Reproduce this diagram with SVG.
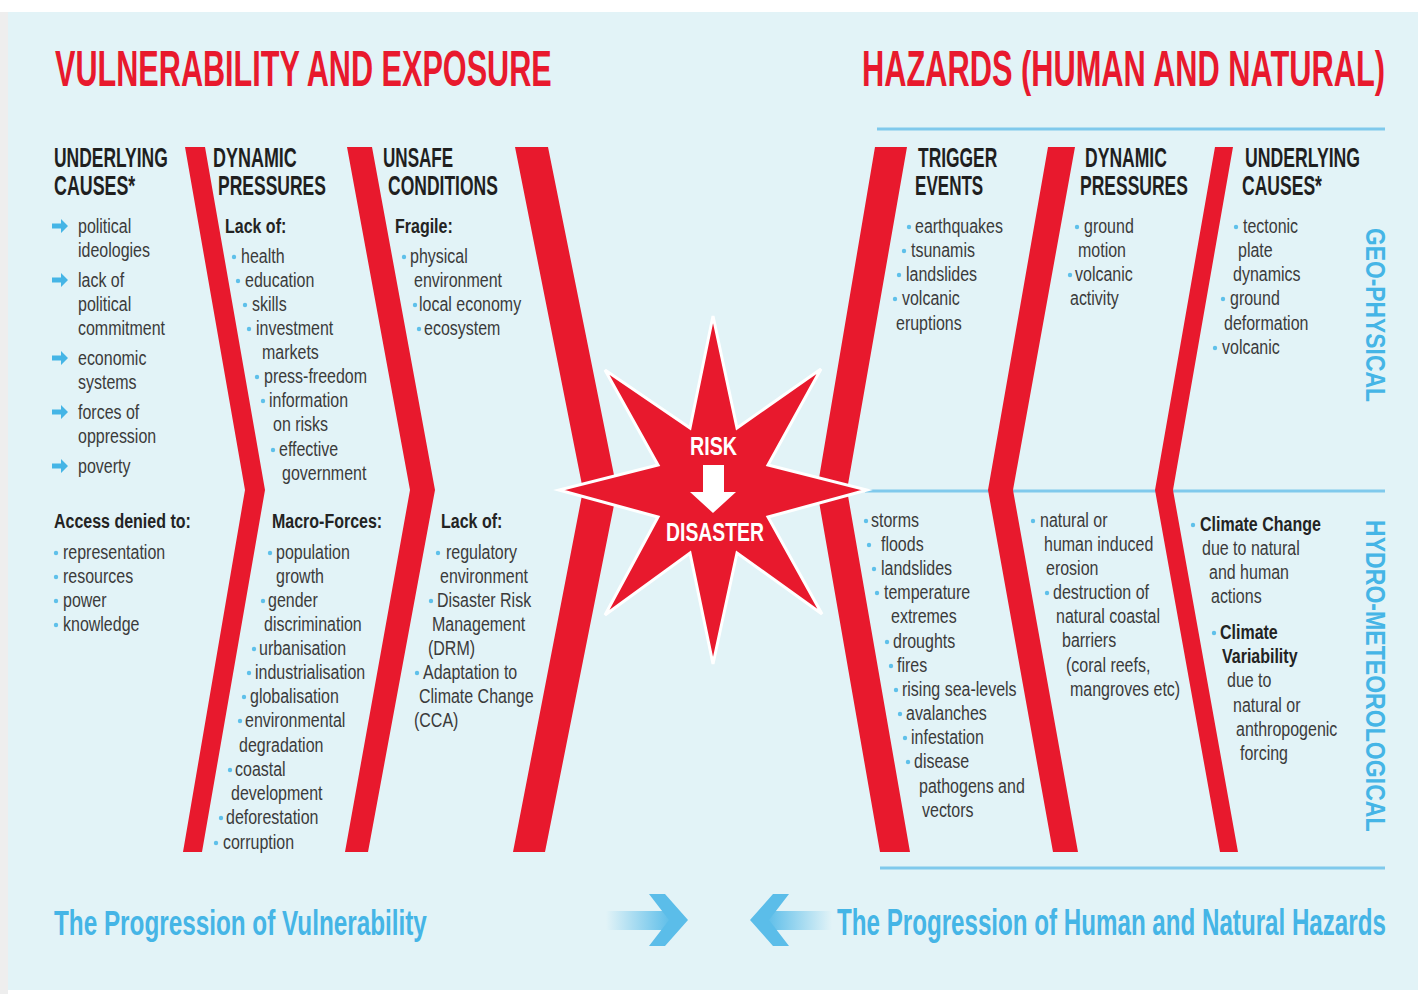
<svg xmlns="http://www.w3.org/2000/svg" width="1418" height="994" viewBox="0 0 1418 994">
<defs>
<style>
.bg{fill:#e2f3f7}
.red{fill:#e8192d}
.hl{stroke:#7fc9ec;stroke-width:3;fill:none}
.t{font-family:"Liberation Sans",Arial,sans-serif;font-size:19.5px;fill:#3b3b3b;transform-box:fill-box;transform-origin:0 0;transform:scaleX(0.82)}
.bd{font-weight:bold;fill:#232323}
.h{font-family:"Liberation Sans",Arial,sans-serif;font-weight:bold;font-size:27px;fill:#1f1f1f}
.title{font-family:"Liberation Sans",Arial,sans-serif;font-weight:bold;font-size:50px;fill:#e8192d}
.blue{font-family:"Liberation Sans",Arial,sans-serif;font-weight:bold;fill:#45b5e6}
.w{font-family:"Liberation Sans",Arial,sans-serif;font-weight:bold;font-size:26px;fill:#ffffff}
.b{fill:#5ec0ea}
.arr{fill:#45b5e6}
</style>
<linearGradient id="gR" x1="0" y1="0" x2="1" y2="0">
<stop offset="0" stop-color="#5bbde9" stop-opacity="0"/>
<stop offset="1" stop-color="#5bbde9" stop-opacity="1"/>
</linearGradient>
<linearGradient id="gL" x1="0" y1="0" x2="1" y2="0">
<stop offset="0" stop-color="#5bbde9" stop-opacity="1"/>
<stop offset="1" stop-color="#5bbde9" stop-opacity="0"/>
</linearGradient>
<path id="ar" d="M0,-2.5 H9 V-7 L16,0 L9,7 V2.5 H0 Z"/>
</defs>

<rect x="0" y="0" width="1418" height="994" fill="#ffffff"/>
<rect x="0" y="12" width="8" height="982" fill="#eeeeee"/>
<rect class="bg" x="8" y="12" width="1410" height="978"/>

<g id="titles">
<text class="title" transform="translate(55,86) scale(0.611,1)" textLength="813" lengthAdjust="spacingAndGlyphs">VULNERABILITY AND EXPOSURE</text>
<text class="title" transform="translate(862,86) scale(0.611,1)" textLength="856" lengthAdjust="spacingAndGlyphs">HAZARDS (HUMAN AND NATURAL)</text>
</g>

<g id="connectors">
<line class="hl" x1="877" y1="129" x2="1385" y2="129"/>
<line class="hl" x1="865" y1="491" x2="1385" y2="491"/>
<line class="hl" x1="880" y1="868" x2="1385" y2="868"/>
<polygon class="red" points="185,147 205,147 265,490 202,852 183,852 245,490"/>
<polygon class="red" points="347,147 372,147 435,490 368,852 345,852 410,490"/>
<polygon class="red" points="515,147 548,147 617,490 545,852 513,852 583,490"/>
<polygon class="red" points="875,147 907,147 847,490 910,852 880,852 817,490"/>
<polygon class="red" points="1048,147 1075,147 1013,490 1078,852 1053,852 988,490"/>
<polygon class="red" points="1215,147 1233,147 1173,490 1238,852 1220,852 1155,490"/>
</g>

<g id="star">
<polygon fill="#e8192d" stroke="#ffffff" stroke-width="3" stroke-linejoin="miter" points="713,316 737,428 821,369 768,465 867,490 768,517 822,614 737,553 713,664 690,553 605,615 658,517 559,490 658,465 605,370 690,428"/>
<text class="w" x="690" y="455" textLength="47" lengthAdjust="spacingAndGlyphs">RISK</text>
<polygon fill="#ffffff" points="703,465 724,465 724,492 736,492 713,513 690,492 703,492"/>
<text class="w" x="666" y="541" textLength="98" lengthAdjust="spacingAndGlyphs">DISASTER</text>
</g>

<g id="col-underlying-left">
<text class="h" transform="translate(54,167) scale(0.65,1)" textLength="175" lengthAdjust="spacingAndGlyphs">UNDERLYING</text>
<text class="h" transform="translate(54,195) scale(0.65,1)" textLength="125" lengthAdjust="spacingAndGlyphs">CAUSES*</text>
<use href="#ar" class="arr" x="52" y="226"/>
<use href="#ar" class="arr" x="52" y="280"/>
<use href="#ar" class="arr" x="52" y="358"/>
<use href="#ar" class="arr" x="52" y="412"/>
<use href="#ar" class="arr" x="52" y="466"/>
<text class="t" x="78" y="233">political</text>
<text class="t" x="78" y="257">ideologies</text>
<text class="t" x="78" y="287">lack of</text>
<text class="t" x="78" y="311">political</text>
<text class="t" x="78" y="335">commitment</text>
<text class="t" x="78" y="365">economic</text>
<text class="t" x="78" y="389">systems</text>
<text class="t" x="78" y="419">forces of</text>
<text class="t" x="78" y="443">oppression</text>
<text class="t" x="78" y="473">poverty</text>
<text class="t bd" x="54" y="528">Access denied to:</text>
<circle class="b" cx="56" cy="553" r="2.2"/><text class="t" x="63" y="559">representation</text>
<circle class="b" cx="56" cy="577" r="2.2"/><text class="t" x="63" y="583">resources</text>
<circle class="b" cx="56" cy="601" r="2.2"/><text class="t" x="63" y="607">power</text>
<circle class="b" cx="56" cy="625" r="2.2"/><text class="t" x="63" y="631">knowledge</text>
</g>

<g id="col-dynamic-left">
<text class="h" transform="translate(213,167) scale(0.65,1)" textLength="129" lengthAdjust="spacingAndGlyphs">DYNAMIC</text>
<text class="h" transform="translate(218,195) scale(0.65,1)" textLength="166" lengthAdjust="spacingAndGlyphs">PRESSURES</text>
<text class="t bd" x="225" y="233">Lack of:</text>
<circle class="b" cx="234" cy="257" r="2.2"/><text class="t" x="241" y="263">health</text>
<circle class="b" cx="238" cy="281" r="2.2"/><text class="t" x="245" y="287">education</text>
<circle class="b" cx="245" cy="305" r="2.2"/><text class="t" x="252" y="311">skills</text>
<circle class="b" cx="249" cy="329" r="2.2"/><text class="t" x="256" y="335">investment</text>
<text class="t" x="262" y="359">markets</text>
<circle class="b" cx="257" cy="377" r="2.2"/><text class="t" x="264" y="383">press-freedom</text>
<circle class="b" cx="263" cy="401" r="2.2"/><text class="t" x="269" y="407">information</text>
<text class="t" x="273" y="431">on risks</text>
<circle class="b" cx="273" cy="450" r="2.2"/><text class="t" x="279" y="456">effective</text>
<text class="t" x="282" y="480">government</text>
<text class="t bd" x="272" y="528">Macro-Forces:</text>
<circle class="b" cx="270" cy="553" r="2.2"/><text class="t" x="276" y="559">population</text>
<text class="t" x="276" y="583">growth</text>
<circle class="b" cx="263" cy="601" r="2.2"/><text class="t" x="268" y="607">gender</text>
<text class="t" x="264" y="631">discrimination</text>
<circle class="b" cx="254" cy="649" r="2.2"/><text class="t" x="259" y="655">urbanisation</text>
<circle class="b" cx="249" cy="673" r="2.2"/><text class="t" x="255" y="679">industrialisation</text>
<circle class="b" cx="244" cy="697" r="2.2"/><text class="t" x="250" y="703">globalisation</text>
<circle class="b" cx="240" cy="721" r="2.2"/><text class="t" x="245" y="727">environmental</text>
<text class="t" x="239" y="752">degradation</text>
<circle class="b" cx="230" cy="770" r="2.2"/><text class="t" x="235" y="776">coastal</text>
<text class="t" x="231" y="800">development</text>
<circle class="b" cx="221" cy="818" r="2.2"/><text class="t" x="226" y="824">deforestation</text>
<circle class="b" cx="216" cy="843" r="2.2"/><text class="t" x="223" y="849">corruption</text>
</g>

<g id="col-unsafe">
<text class="h" transform="translate(383,167) scale(0.65,1)" textLength="108" lengthAdjust="spacingAndGlyphs">UNSAFE</text>
<text class="h" transform="translate(388,195) scale(0.65,1)" textLength="169" lengthAdjust="spacingAndGlyphs">CONDITIONS</text>
<text class="t bd" x="395" y="233">Fragile:</text>
<circle class="b" cx="404" cy="257" r="2.2"/><text class="t" x="410" y="263">physical</text>
<text class="t" x="414" y="287">environment</text>
<circle class="b" cx="415" cy="305" r="2.2"/><text class="t" x="419" y="311">local economy</text>
<circle class="b" cx="419" cy="329" r="2.2"/><text class="t" x="424" y="335">ecosystem</text>
<text class="t bd" x="441" y="528">Lack of:</text>
<circle class="b" cx="438" cy="553" r="2.2"/><text class="t" x="446" y="559">regulatory</text>
<text class="t" x="440" y="583">environment</text>
<circle class="b" cx="431" cy="601" r="2.2"/><text class="t" x="437" y="607">Disaster Risk</text>
<text class="t" x="432" y="631">Management</text>
<text class="t" x="428" y="655">(DRM)</text>
<circle class="b" cx="417" cy="673" r="2.2"/><text class="t" x="423" y="679">Adaptation to</text>
<text class="t" x="419" y="703">Climate Change</text>
<text class="t" x="414" y="727">(CCA)</text>
</g>

<g id="col-trigger">
<text class="h" transform="translate(918,167) scale(0.65,1)" textLength="122" lengthAdjust="spacingAndGlyphs">TRIGGER</text>
<text class="h" transform="translate(915,195) scale(0.65,1)" textLength="105" lengthAdjust="spacingAndGlyphs">EVENTS</text>
<circle class="b" cx="909" cy="227" r="2.2"/><text class="t" x="915" y="233">earthquakes</text>
<circle class="b" cx="904" cy="251" r="2.2"/><text class="t" x="911" y="257">tsunamis</text>
<circle class="b" cx="899" cy="275" r="2.2"/><text class="t" x="906" y="281">landslides</text>
<circle class="b" cx="895" cy="299" r="2.2"/><text class="t" x="902" y="305">volcanic</text>
<text class="t" x="896" y="330">eruptions</text>
<circle class="b" cx="866" cy="521" r="2.2"/><text class="t" x="871" y="527">storms</text>
<circle class="b" cx="869" cy="545" r="2.2"/><text class="t" x="881" y="551">floods</text>
<circle class="b" cx="874" cy="569" r="2.2"/><text class="t" x="881" y="575">landslides</text>
<circle class="b" cx="877" cy="593" r="2.2"/><text class="t" x="884" y="599">temperature</text>
<text class="t" x="891" y="623">extremes</text>
<circle class="b" cx="887" cy="642" r="2.2"/><text class="t" x="893" y="648">droughts</text>
<circle class="b" cx="891" cy="666" r="2.2"/><text class="t" x="897" y="672">fires</text>
<circle class="b" cx="896" cy="690" r="2.2"/><text class="t" x="902" y="696">rising sea-levels</text>
<circle class="b" cx="900" cy="714" r="2.2"/><text class="t" x="906" y="720">avalanches</text>
<circle class="b" cx="905" cy="738" r="2.2"/><text class="t" x="911" y="744">infestation</text>
<circle class="b" cx="908" cy="762" r="2.2"/><text class="t" x="914" y="768">disease</text>
<text class="t" x="919" y="793">pathogens and</text>
<text class="t" x="922" y="817">vectors</text>
</g>

<g id="col-dynamic-right">
<text class="h" transform="translate(1085,167) scale(0.65,1)" textLength="126" lengthAdjust="spacingAndGlyphs">DYNAMIC</text>
<text class="h" transform="translate(1080,195) scale(0.65,1)" textLength="166" lengthAdjust="spacingAndGlyphs">PRESSURES</text>
<circle class="b" cx="1077" cy="227" r="2.2"/><text class="t" x="1084" y="233">ground</text>
<text class="t" x="1078" y="257">motion</text>
<circle class="b" cx="1070" cy="275" r="2.2"/><text class="t" x="1075" y="281">volcanic</text>
<text class="t" x="1070" y="305">activity</text>
<circle class="b" cx="1033" cy="521" r="2.2"/><text class="t" x="1040" y="527">natural or</text>
<text class="t" x="1044" y="551">human induced</text>
<text class="t" x="1046" y="575">erosion</text>
<circle class="b" cx="1047" cy="593" r="2.2"/><text class="t" x="1053" y="599">destruction of</text>
<text class="t" x="1056" y="623">natural coastal</text>
<text class="t" x="1062" y="647">barriers</text>
<text class="t" x="1066" y="672">(coral reefs,</text>
<text class="t" x="1070" y="696">mangroves etc)</text>
</g>

<g id="col-underlying-right">
<text class="h" transform="translate(1245,167) scale(0.65,1)" textLength="177" lengthAdjust="spacingAndGlyphs">UNDERLYING</text>
<text class="h" transform="translate(1242,195) scale(0.65,1)" textLength="123" lengthAdjust="spacingAndGlyphs">CAUSES*</text>
<circle class="b" cx="1236" cy="227" r="2.2"/><text class="t" x="1243" y="233">tectonic</text>
<text class="t" x="1238" y="257">plate</text>
<text class="t" x="1233" y="281">dynamics</text>
<circle class="b" cx="1223" cy="299" r="2.2"/><text class="t" x="1230" y="305">ground</text>
<text class="t" x="1224" y="330">deformation</text>
<circle class="b" cx="1215" cy="348" r="2.2"/><text class="t" x="1222" y="354">volcanic</text>
<circle class="b" cx="1193" cy="525" r="2.2"/><text class="t bd" x="1200" y="531">Climate Change</text>
<text class="t" x="1202" y="555">due to natural</text>
<text class="t" x="1209" y="579">and human</text>
<text class="t" x="1211" y="603">actions</text>
<circle class="b" cx="1214" cy="633" r="2.2"/><text class="t bd" x="1220" y="639">Climate</text>
<text class="t bd" x="1222" y="663">Variability</text>
<text class="t" x="1227" y="687">due to</text>
<text class="t" x="1233" y="712">natural or</text>
<text class="t" x="1236" y="736">anthropogenic</text>
<text class="t" x="1240" y="760">forcing</text>
</g>

<g id="side-labels">
<text class="blue" font-size="28" transform="translate(1366,228) rotate(90) scale(0.82,1)" textLength="212" lengthAdjust="spacingAndGlyphs">GEO-PHYSICAL</text>
<text class="blue" font-size="28" transform="translate(1366,520) rotate(90) scale(0.82,1)" textLength="380" lengthAdjust="spacingAndGlyphs">HYDRO-METEOROLOGICAL</text>
</g>

<g id="footer">
<text class="blue" font-size="36" transform="translate(54,935) scale(0.673,1)" textLength="554" lengthAdjust="spacingAndGlyphs">The Progression of Vulnerability</text>
<text class="blue" font-size="36" transform="translate(837,935) scale(0.671,1)" textLength="818" lengthAdjust="spacingAndGlyphs">The Progression of Human and Natural Hazards</text>
<rect x="606" y="911" width="66" height="19" fill="url(#gR)"/>
<polygon fill="#5bbde9" points="649,894 665,894 688,920 665,946 649,946 669,920"/>
<rect x="766" y="911" width="66" height="19" fill="url(#gL)"/>
<polygon fill="#5bbde9" points="789,894 773,894 750,920 773,946 789,946 769,920"/>
</g>
</svg>
